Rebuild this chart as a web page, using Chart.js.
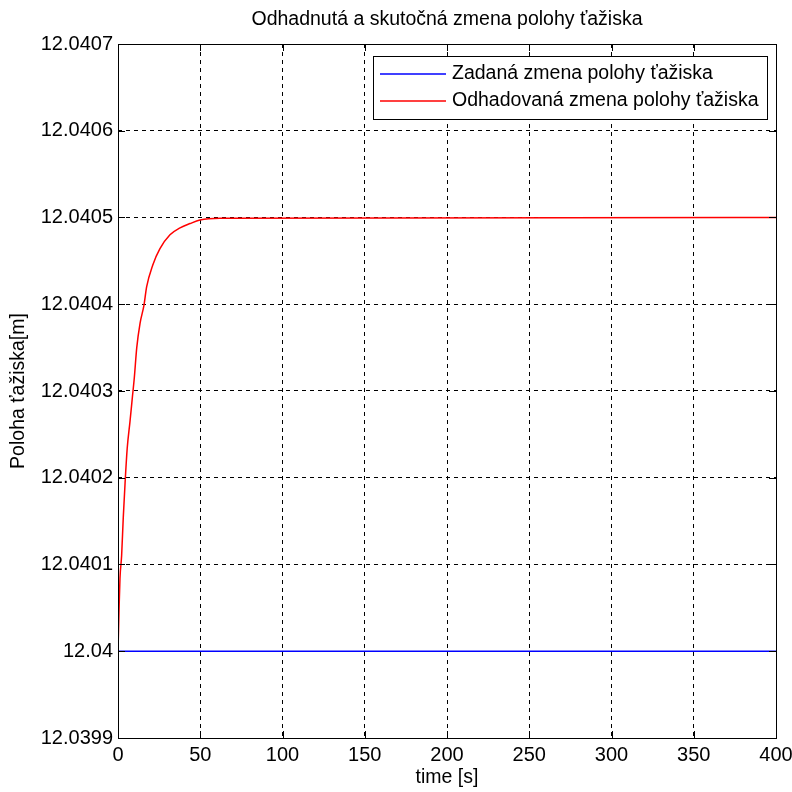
<!DOCTYPE html>
<html>
<head>
<meta charset="utf-8">
<script src="https://cdn.jsdelivr.net/npm/chart.js@4"></script>
<style>
  body { margin: 0; background: #fff; }
  canvas { display: block; }
</style>
</head>
<body>
<canvas id="polohaChart" width="792" height="792"></canvas>
<script>
// data
const xTicks = [0, 50, 100, 150, 200, 250, 300, 350, 400];
const yTicks = [12.0399, 12.04, 12.0401, 12.0402, 12.0403, 12.0404, 12.0405, 12.0406, 12.0407];

const zadanaTime = [0, 400];
const zadanaPoloha = [12.04, 12.04];

const odhadTime = [0, 0.6, 1.2, 2.2, 3.2, 4.3, 5.6, 7.3, 8.7, 9.9, 11.4, 13.4, 15.8, 17.4, 21.1,
    25.5, 31.6, 37.7, 43.8, 49.8, 62, 400];
const odhadPoloha = [12.04, 12.040045, 12.040084, 12.04011, 12.040154, 12.040194, 12.040234,
    12.040265, 12.040292, 12.040315, 12.04035, 12.040378, 12.040399, 12.04042, 12.040445,
    12.040464, 12.04048, 12.040488, 12.040493, 12.040497, 12.040499, 12.0405];

const chartTitle = "Odhadnutá a skutočná zmena polohy ťažiska";
const labels = ["Zadaná zmena polohy ťažiska", "Odhadovaná zmena polohy ťažiska"];

const FONT = "'Liberation Sans', Arial, sans-serif";

function toPoints(xs, ys){
    return xs.map((x, i) => ({x: x, y: ys[i]}));
}

// title, box, inward ticks and legend like the matlab figure
const matlabFrame = {
    id: "matlabFrame",
    afterDraw(chart){
        const ctx = chart.ctx;
        const a = chart.chartArea;
        const xs = chart.scales.x;
        const ys = chart.scales.y;
        ctx.save();

        ctx.fillStyle = "#000";
        ctx.font = "19.5px " + FONT;
        ctx.textAlign = "center";
        ctx.textBaseline = "middle";
        ctx.fillText(chartTitle, (a.left + a.right) / 2, 20);

        ctx.strokeStyle = "#000";
        ctx.lineWidth = 1;
        ctx.setLineDash([]);
        ctx.beginPath();
        xTicks.forEach(v => {
            const px = Math.round(xs.getPixelForValue(v)) + 0.5;
            ctx.moveTo(px, a.bottom); ctx.lineTo(px, a.bottom - 7);
            ctx.moveTo(px, a.top); ctx.lineTo(px, a.top + 7);
        });
        yTicks.forEach(v => {
            const py = Math.round(ys.getPixelForValue(v)) + 0.5;
            ctx.moveTo(a.left, py); ctx.lineTo(a.left + 7, py);
            ctx.moveTo(a.right, py); ctx.lineTo(a.right - 7, py);
        });
        ctx.stroke();
        ctx.strokeRect(Math.round(a.left) + 0.5, Math.round(a.top) + 0.5,
            Math.round(a.right - a.left), Math.round(a.bottom - a.top));

        // legend
        const lx = 373.5, ly = 56.5, lw = 394, lh = 63;
        ctx.fillStyle = "#fff";
        ctx.fillRect(lx, ly, lw, lh);
        ctx.strokeRect(lx, ly, lw, lh);
        ctx.font = "19.5px " + FONT;
        ctx.textAlign = "left";
        chart.data.datasets.forEach((ds, i) => {
            const rowY = 74 + i * 27;
            ctx.strokeStyle = ds.borderColor;
            ctx.lineWidth = 1.5;
            ctx.beginPath();
            ctx.moveTo(380, rowY); ctx.lineTo(446, rowY);
            ctx.stroke();
            ctx.fillStyle = "#000";
            ctx.fillText(ds.label, 452, rowY);
        });
        ctx.restore();
    }
};

new Chart(document.getElementById("polohaChart"), {
    type: "line",
    data: {
        datasets: [
            {
                label: labels[0],
                data: toPoints(zadanaTime, zadanaPoloha),
                borderColor: "#0000ff",
                borderWidth: 1.5,
                pointRadius: 0,
                tension: 0
            },
            {
                label: labels[1],
                data: toPoints(odhadTime, odhadPoloha),
                borderColor: "#ff0000",
                borderWidth: 1.5,
                pointRadius: 0,
                cubicInterpolationMode: "monotone"
            }
        ]
    },
    options: {
        responsive: false,
        animation: false,
        layout: { padding: { left: 0, right: 16, top: 44, bottom: 0 } },
        plugins: {
            legend: { display: false },
            tooltip: { enabled: false },
            title: { display: false }
        },
        scales: {
            x: {
                type: "linear",
                min: 0,
                max: 400,
                afterBuildTicks: s => { s.ticks = xTicks.map(v => ({value: v})); },
                afterFit: s => { s.height = 54; s.paddingLeft = 0; s.paddingRight = 0; },
                grid: { color: "#000", lineWidth: 1, drawTicks: false },
                border: { display: false, dash: [4, 4] },
                ticks: {
                    color: "#000",
                    padding: 5,
                    maxRotation: 0,
                    font: { family: FONT, size: 20 },
                    callback: v => String(v)
                },
                title: {
                    display: true,
                    text: "time [s]",
                    color: "#000",
                    font: { family: FONT, size: 19.5 },
                    padding: { top: 0, bottom: 3 }
                }
            },
            y: {
                type: "linear",
                min: 12.0399,
                max: 12.0407,
                afterBuildTicks: s => { s.ticks = yTicks.map(v => ({value: v})); },
                afterFit: s => { s.width = 118; s.paddingTop = 0; s.paddingBottom = 0; },
                grid: { color: "#000", lineWidth: 1, drawTicks: false },
                border: { display: false, dash: [4, 4] },
                ticks: {
                    color: "#000",
                    padding: 5,
                    font: { family: FONT, size: 20 },
                    callback: v => String(Number(v.toFixed(4)))
                },
                title: {
                    display: true,
                    text: "Poloha ťažiska[m]",
                    color: "#000",
                    font: { family: FONT, size: 19.5 },
                    padding: { top: 7, bottom: 0 }
                }
            }
        }
    },
    plugins: [matlabFrame]
});
</script>
</body>
</html>
